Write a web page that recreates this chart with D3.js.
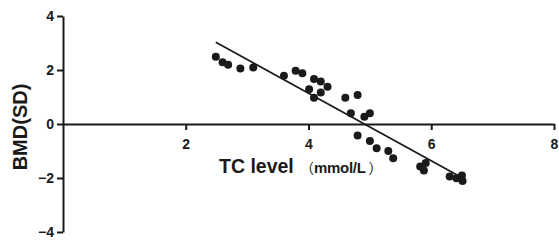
<!DOCTYPE html>
<html>
<head>
<meta charset="utf-8">
<script src="https://cdn.jsdelivr.net/npm/d3@7"></script>
<style>
  body { margin: 0; background: #fff; }
  svg { display: block; }
  .axis path, .axis line { stroke: #1a1a1a; stroke-width: 2px; }
  .axis text { font: bold 14px "Liberation Sans", Arial, sans-serif; fill: #1a1a1a; }
</style>
</head>
<body>
<div id="chart"></div>
<script>
// TC level (mmol/L) and BMD (SD) of each subject
var tcLevel = [2.49, 2.60, 2.69, 2.89, 3.10, 3.60, 3.79, 3.90, 4.09, 4.20,
               4.31, 4.01, 4.20, 4.09, 4.60, 4.80, 4.69, 4.91, 5.00, 4.80,
               5.00, 5.11, 5.30, 5.38, 5.82, 5.91, 5.88, 6.30, 6.41, 6.50, 6.51];
var bmdSD   = [2.49, 2.29, 2.19, 2.06, 2.09, 1.79, 1.97, 1.88, 1.67, 1.57,
               1.38, 1.29, 1.17, 0.97, 0.97, 1.07, 0.40, 0.27, 0.40, -0.43,
               -0.63, -0.90, -1.00, -1.27, -1.57, -1.44, -1.72, -1.94, -2.01, -1.91, -2.11];

// regression line
var fitSlope = -1.25;
var fitIntercept = 6.14;

var xTicks = [2, 4, 6, 8];
var yTicks = [-4, -2, 0, 2, 4];

var width = 559, height = 242;
var margin = {left: 63, right: 5, top: 16, bottom: 10};

var svg = d3.select("#chart")
        .append("svg")
        .attr("width", width)
        .attr("height", height);

var x = d3.scaleLinear()
        .domain([0, 8])
        .range([margin.left, 554]);

var y = d3.scaleLinear()
        .domain([-4, 4])
        .range([232, margin.top]);

var xAxis = d3.axisBottom(x)
        .tickValues(xTicks)
        .tickSize(6)
        .tickSizeOuter(0)
        .tickPadding(9)
        .tickFormat(d3.format("d"));

var yAxis = d3.axisLeft(y)
        .tickValues(yTicks)
        .tickSize(6)
        .tickSizeOuter(0)
        .tickPadding(3)
        .tickFormat(d3.format("d"));

svg.append("g")
        .attr("class", "axis")
        .attr("transform", "translate(0," + y(0) + ")")
        .call(xAxis);

svg.append("g")
        .attr("class", "axis")
        .attr("transform", "translate(" + x(0) + ",0)")
        .call(yAxis);

// fit line over the data range
var xMin = d3.min(tcLevel), xMax = d3.max(tcLevel);
svg.append("line")
        .attr("x1", x(xMin))
        .attr("y1", y(fitIntercept + fitSlope * xMin))
        .attr("x2", x(xMax))
        .attr("y2", y(fitIntercept + fitSlope * xMax))
        .attr("stroke", "#1a1a1a")
        .attr("stroke-width", 1.8);

svg.selectAll("circle.pt")
        .data(d3.range(tcLevel.length))
        .enter()
        .append("circle")
        .attr("class", "pt")
        .attr("cx", function(i){ return x(tcLevel[i]); })
        .attr("cy", function(i){ return y(bmdSD[i]); })
        .attr("r", 4)
        .attr("fill", "#1a1a1a");

// axis titles
svg.append("text")
        .attr("x", 219)
        .attr("y", 173)
        .attr("fill", "#1a1a1a")
        .attr("font-family", "'Liberation Sans', Arial, sans-serif")
        .attr("font-weight", "bold")
        .attr("font-size", "19.5px")
        .text("TC level");

var unit = svg.append("text")
        .attr("x", 300)
        .attr("y", 173)
        .attr("fill", "#1a1a1a");
unit.append("tspan")
        .attr("font-family", "'Noto Sans CJK SC', sans-serif")
        .attr("font-size", "14px")
        .text("（");
unit.append("tspan")
        .attr("font-family", "'Liberation Sans', Arial, sans-serif")
        .attr("font-weight", "bold")
        .attr("font-size", "15px")
        .attr("letter-spacing", "-0.3px")
        .text("mmol/L");
unit.append("tspan")
        .attr("dx", 3)
        .attr("font-family", "'Noto Sans CJK SC', sans-serif")
        .attr("font-size", "14px")
        .text("）");

svg.append("text")
        .attr("transform", "translate(27,127) rotate(-90)")
        .attr("text-anchor", "middle")
        .attr("font-family", "'Liberation Sans', Arial, sans-serif")
        .attr("font-weight", "bold")
        .attr("font-size", "20px")
        .attr("fill", "#1a1a1a")
        .text("BMD(SD)");
</script>
</body>
</html>
